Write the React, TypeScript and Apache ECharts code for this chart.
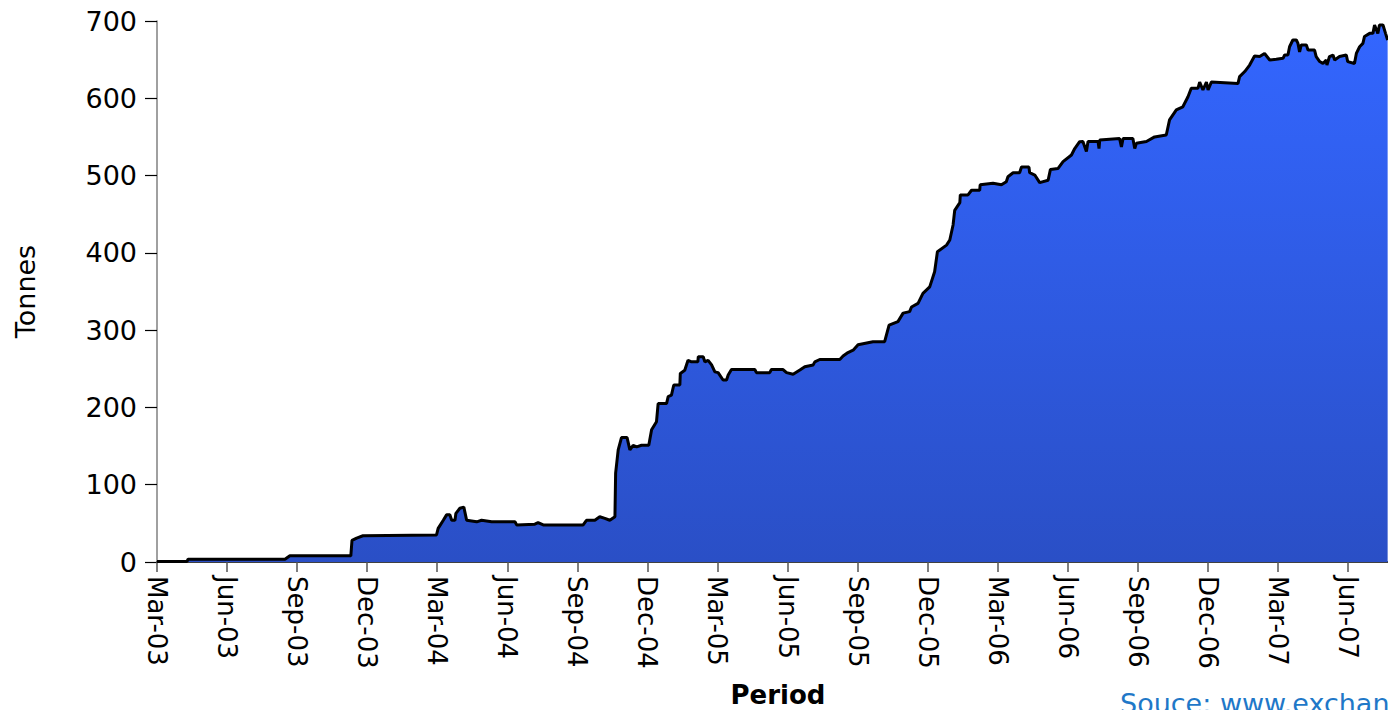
import React, { useEffect, useRef } from "react";
import * as echarts from "echarts";

// Months elapsed since 1 March 2003 (x) and holdings in tonnes (y)
const months = [
  0, 1.28, 1.33, 5.48, 5.69, 8.3, 8.35, 8.55, 8.82, 11.97, 12.04, 12.26, 12.4, 12.54, 12.62, 12.76, 12.8, 12.97, 13.14, 13.26,
  13.69, 13.9, 14.33, 15.33, 15.4, 16.18, 16.32, 16.54, 18.25, 18.39, 18.75, 18.96, 19.18, 19.39, 19.61, 19.64, 19.75, 19.89, 20.13, 20.25,
  20.39, 20.54, 20.75, 21.06, 21.18, 21.39, 21.46, 21.82, 21.89, 22.03, 22.13, 22.39, 22.41, 22.6, 22.74, 22.89, 23.16, 23.18, 23.39, 23.46,
  23.6, 23.75, 23.89, 24.03, 24.24, 24.39, 24.46, 24.6, 25.6, 25.67, 26.24, 26.31, 26.81, 26.96, 27.24, 27.53, 27.74, 28.1, 28.17, 28.38,
  29.24, 29.38, 29.59, 29.81, 30.02, 30.66, 31.16, 31.35, 31.73, 31.95, 32.23, 32.31, 32.59, 32.8, 33.09, 33.3, 33.42, 33.81, 33.95, 34.09,
  34.16, 34.38, 34.4, 34.73, 34.88, 35.23, 35.25, 35.8, 36.16, 36.37, 36.44, 36.66, 36.94, 37.02, 37.34, 37.37, 37.59, 37.8, 38.16, 38.26,
  38.58, 38.8, 39.16, 39.3, 39.51, 39.65, 39.8, 39.87, 40.3, 40.34, 40.37, 41.22, 41.3, 41.37, 41.79, 41.87, 41.94, 42.37, 42.72, 43.22,
  43.36, 43.65, 43.93, 44.15, 44.29, 44.58, 44.65, 44.79, 44.94, 45.01, 45.15, 46.29, 46.36, 46.58, 46.79, 47.0, 47.22, 47.43, 47.65, 47.93,
  48.22, 48.29, 48.43, 48.5, 48.64, 48.79, 48.86, 48.93, 49.0, 49.22, 49.29, 49.57, 49.64, 49.79, 49.93, 50.07, 50.1, 50.21, 50.36, 50.43,
  50.64, 50.93, 50.99, 51.28, 51.36, 51.5, 51.64, 51.71, 51.93, 52.07, 52.14, 52.28, 52.35, 52.5, 52.61, 52.7,
];
const tonnes = [
  0.5, 0.5, 3.5, 3.5, 8, 8, 28, 31, 34, 35, 43.5, 54, 61, 61, 54, 54, 63, 69.5, 71, 54,
  52, 54, 52, 52, 48, 49, 51, 48, 48, 54, 54, 58.5, 56.5, 54, 58.5, 115, 145, 161, 161, 145,
  151, 149, 151, 151, 171, 181.5, 205, 205, 214, 216, 229, 229, 244, 248, 261, 259, 259, 265.6, 265.6, 259,
  261, 255, 246, 245, 235.5, 235.5, 242, 249, 249, 245, 245, 249, 249, 245, 243, 248.5, 252.7, 255, 259, 262,
  262, 266.5, 271, 274, 281, 285, 285, 306.6, 311, 322, 324, 330, 334.7, 347.6, 356, 375.6, 401.5, 410, 416.6, 436,
  455, 465, 475, 475, 481, 481, 488, 490, 488, 492, 498.5, 503.7, 503.7, 511, 511, 503.7, 500.7, 490.8, 494, 508,
  509, 518, 526.6, 535, 543.8, 544, 531, 544, 544, 535, 546, 548, 537, 548, 548, 535, 541.7, 544, 550, 552.5,
  572, 585, 589, 602, 613, 613, 621, 610.7, 621, 610.7, 621, 619, 628, 634.6, 643, 654.7, 654, 658, 649.5, 650.4,
  651.7, 656, 656, 666.7, 675.4, 675.4, 671, 660, 669, 669, 662.4, 662.4, 654, 647.5, 645, 649.5, 643, 654, 656, 649.5,
  654, 656, 647.5, 645, 658, 666.7, 671, 680, 684, 684, 694.8, 684, 694.8, 694.8, 684, 675.4,
];
const monthNames = ["Jan", "Feb", "Mar", "Apr", "May", "Jun", "Jul", "Aug", "Sep", "Oct", "Nov", "Dec"];
const yTicks = { min: 0, max: 700, step: 100 };
const xTitle = "Period";
const yTitle = "Tonnes";
const sourceText = "Souce: www.exchangetradedgold.com";

const FONT = "DejaVu Sans";

function monthLabel(v: number): string {
  const total = 2 + Math.round(v);
  const m = ((total % 12) + 12) % 12;
  const y = 2003 + Math.floor(total / 12);
  return monthNames[m] + "-" + String(y % 100).padStart(2, "0");
}

export default function App() {
  const ref = useRef<HTMLDivElement>(null);
  useEffect(() => {
    if (!ref.current) return;
    const chart = echarts.init(ref.current, undefined, { renderer: "svg" });
    const data = months.map((m, i) => [m, tonnes[i]]);
    chart.setOption({
      animation: false,
      backgroundColor: "#ffffff",
      grid: { left: 157, right: 2, top: 21, bottom: 148, containLabel: false },
      xAxis: {
        type: "value",
        min: 0,
        max: 54,
        interval: 3,
        splitLine: { show: false },
        axisLine: { show: true, onZero: false, lineStyle: { color: "#000000", width: 1.5 } },
        axisTick: { show: true, length: 10, lineStyle: { color: "#555555", width: 1.5 } },
        axisLabel: {
          rotate: -90,
          margin: 14,
          showMaxLabel: false,
          fontFamily: FONT,
          fontSize: 26,
          color: "#000000",
          formatter: (v: number) => monthLabel(v),
        },
      },
      yAxis: {
        type: "value",
        min: yTicks.min,
        max: yTicks.max,
        interval: yTicks.step,
        splitLine: { show: false },
        axisLine: { show: true, lineStyle: { color: "#808080", width: 1.5 } },
        axisTick: { show: true, length: 12, lineStyle: { color: "#000000", width: 1.2 } },
        axisLabel: { margin: 20, fontFamily: FONT, fontSize: 27, color: "#000000" },
        name: yTitle,
        nameLocation: "middle",
        nameGap: 118,
        nameRotate: 90,
        nameTextStyle: { fontFamily: FONT, fontSize: 27, color: "#000000" },
      },
      graphic: [
        {
          type: "text",
          x: 778,
          y: 695,
          style: {
            text: xTitle,
            fontFamily: FONT,
            fontWeight: "bold",
            fontSize: 26,
            lineHeight: 26,
            align: "center",
            verticalAlign: "middle",
            fill: "#000000",
          },
        },
        {
          type: "text",
          x: 1120,
          y: 690,
          style: {
            text: sourceText,
            fontFamily: FONT,
            fontSize: 27,
            lineHeight: 27,
            verticalAlign: "top",
            fill: "#1f78c8",
          },
        },
      ],
      series: [
        {
          type: "line",
          data,
          showSymbol: false,
          symbol: "none",
          lineStyle: { color: "#000000", width: 3 },
          areaStyle: {
            opacity: 1,
            color: new echarts.graphic.LinearGradient(0, 0, 0, 1, [
              { offset: 0, color: "#3366ff" },
              { offset: 1, color: "#2a4fc6" },
            ]),
          },
          z: 2,
        },
      ],
    });
    return () => chart.dispose();
  }, []);
  return (
    <div style={{ position: "fixed", left: 0, top: 0, width: 1388, height: 710, overflow: "hidden", background: "#fff" }}>
      <div ref={ref} style={{ width: 1420, height: 710 }} />
    </div>
  );
}
